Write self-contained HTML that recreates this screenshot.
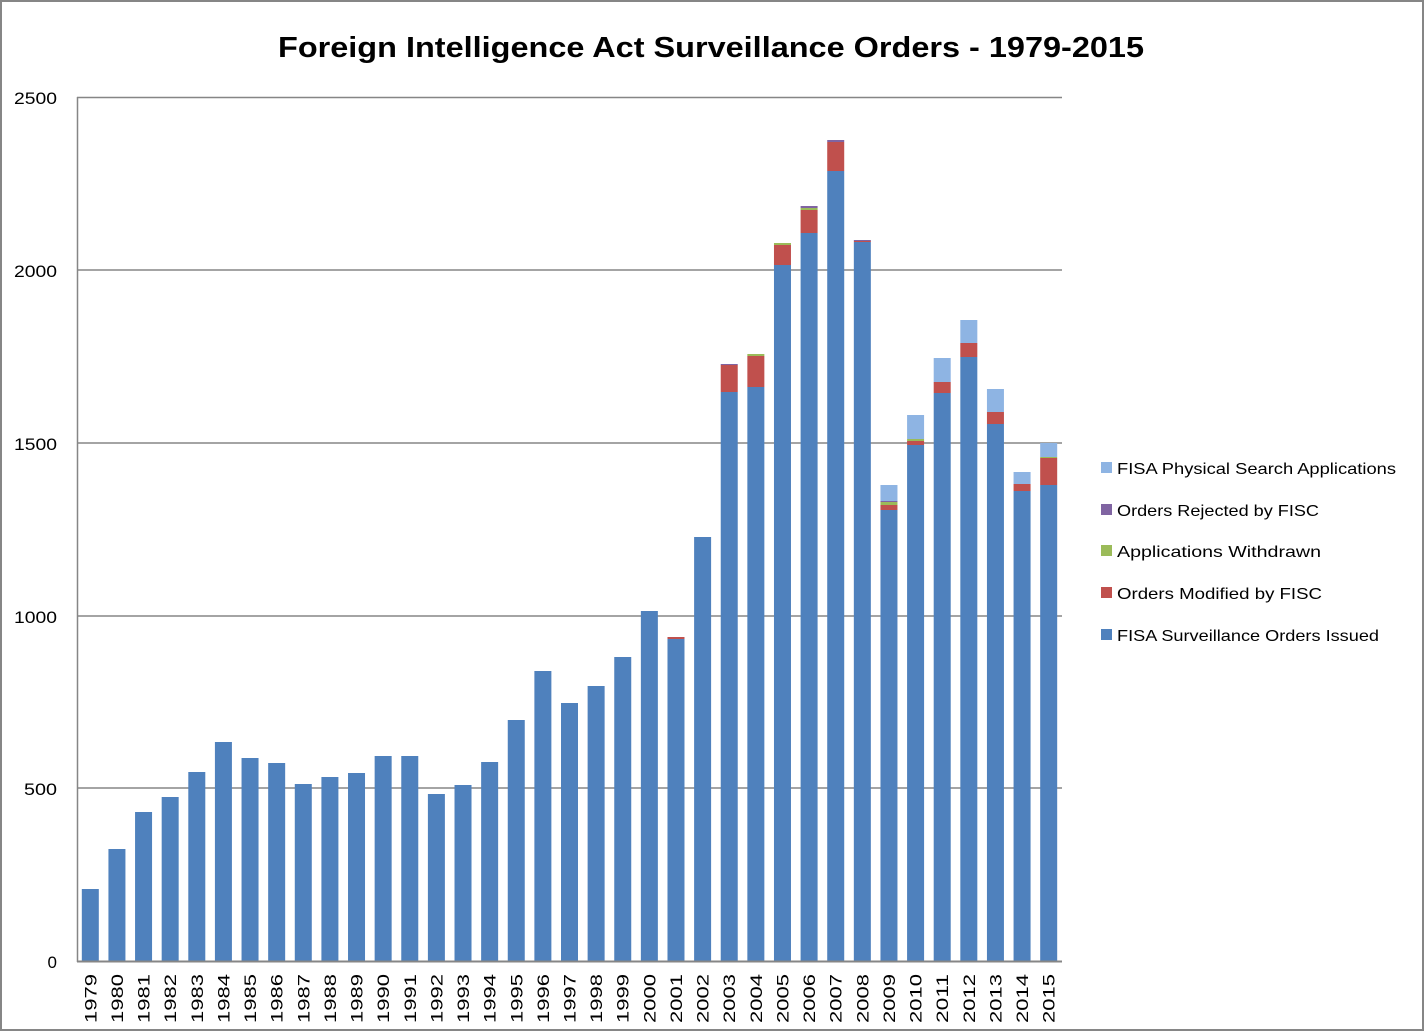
<!DOCTYPE html>
<html><head><meta charset="utf-8"><style>html,body{margin:0;padding:0;background:#fff}svg{display:block}</style></head>
<body>
<svg id="c" width="1425" height="1032" xmlns="http://www.w3.org/2000/svg" font-family="Liberation Sans, sans-serif">
<rect x="1" y="1" width="1422" height="1029" fill="#fff" stroke="#868686" stroke-width="2"/>
<text x="711" y="57" text-anchor="middle" font-size="29" font-weight="bold" textLength="866" lengthAdjust="spacingAndGlyphs">Foreign Intelligence Act Surveillance Orders - 1979-2015</text>
<g stroke="#868686" stroke-width="1.5">
<line x1="77" y1="97.5" x2="1062" y2="97.5"/>
<line x1="77" y1="270" x2="1062" y2="270"/>
<line x1="77" y1="443" x2="1062" y2="443"/>
<line x1="77" y1="616" x2="1062" y2="616"/>
<line x1="77" y1="788" x2="1062" y2="788"/>
<line x1="77.5" y1="97" x2="77.5" y2="962"/>
</g>
<g font-size="17" text-anchor="end" fill="#000">
<text x="57" y="104" textLength="43" lengthAdjust="spacingAndGlyphs">2500</text><text x="57" y="277" textLength="43" lengthAdjust="spacingAndGlyphs">2000</text><text x="57" y="450" textLength="43" lengthAdjust="spacingAndGlyphs">1500</text><text x="57" y="623" textLength="43" lengthAdjust="spacingAndGlyphs">1000</text><text x="57" y="795" textLength="33" lengthAdjust="spacingAndGlyphs">500</text><text x="57" y="968">0</text>
</g>
<g id="bars"></g>
<g id="labs" font-size="17" fill="#000"></g>
<line x1="77" y1="961.5" x2="1062" y2="961.5" stroke="#868686" stroke-width="2"/>
<g font-size="16" fill="#000">
<rect x="1101" y="462" width="11" height="11" fill="#8eb4e3"/><text x="1117" y="474" textLength="279" lengthAdjust="spacingAndGlyphs">FISA Physical Search Applications</text>
<rect x="1101" y="504" width="11" height="11" fill="#8064a2"/><text x="1117" y="516" textLength="202" lengthAdjust="spacingAndGlyphs">Orders Rejected by FISC</text>
<rect x="1101" y="545" width="11" height="11" fill="#9bbb59"/><text x="1117" y="557" textLength="204" lengthAdjust="spacingAndGlyphs">Applications Withdrawn</text>
<rect x="1101" y="587" width="11" height="11" fill="#c0504d"/><text x="1117" y="599" textLength="205" lengthAdjust="spacingAndGlyphs">Orders Modified by FISC</text>
<rect x="1101" y="629" width="11" height="11" fill="#4f81bd"/><text x="1117" y="641" textLength="262" lengthAdjust="spacingAndGlyphs">FISA Surveillance Orders Issued</text>
</g>
</svg>
<script>
var d=[[889],[849],[812],[797],[772],[742],[758],[763],[784],[777],[773],[756],[756],[794],[785],[762],[720],[671],[703],[686],[657],[611],[639,637],[537],
[392,365,365,364,364],[387,356,354,354,354],[265,245,243,243,243],[233,210,208,206,206],[171,142,142,140,140],[242,241,241,240,240],
[510,505,502,501,485],[445,441,439,439,415],[393,382,382,382,358],[357,343,343,343,320],[424,412,412,412,389],[491,484,484,484,472],[485,458,457,457,443]];
var cols=["#4f81bd","#c0504d","#9bbb59","#8064a2","#8eb4e3"];
var ns="http://www.w3.org/2000/svg",g=document.getElementById("bars"),L=document.getElementById("labs");
var cw=(1062-77)/37;
d.forEach(function(v,i){
 var x=77+cw*(i+0.5)-8.5,prev=961;
 for(var k=0;k<v.length;k++){var t=v[k];if(t<prev){var r=document.createElementNS(ns,"rect");r.setAttribute("x",x);r.setAttribute("y",t);r.setAttribute("width",17);r.setAttribute("height",prev-t);r.setAttribute("fill",cols[k]);g.appendChild(r);prev=t;}}
 var tx=document.createElementNS(ns,"text"),cx=77+cw*(i+0.5)+6;
 tx.setAttribute("transform","translate("+cx+",1023) rotate(-90)");tx.setAttribute("textLength","49");tx.setAttribute("lengthAdjust","spacingAndGlyphs");tx.textContent=1979+i;L.appendChild(tx);
});
</script>
</body></html>
